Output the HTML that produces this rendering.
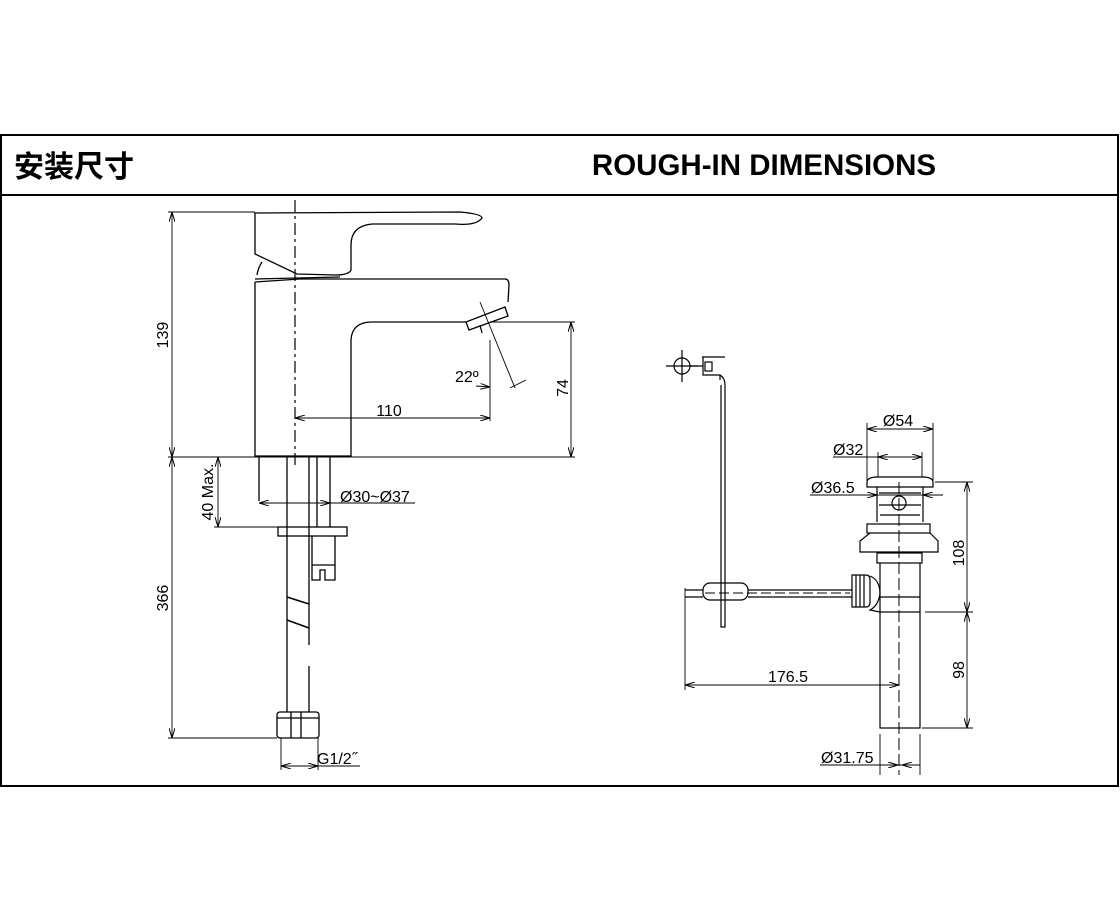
<!DOCTYPE html>
<html><head><meta charset="utf-8"><style>
html,body{margin:0;padding:0;background:#fff;width:1120px;height:920px;overflow:hidden}
svg{display:block}
text{font-family:"Liberation Sans","Noto Sans CJK SC",sans-serif;fill:#000}
</style></head><body>
<svg width="1120" height="920" viewBox="0 0 1120 920" xmlns="http://www.w3.org/2000/svg">
<defs>
<marker id="a" viewBox="0 0 10 6" refX="10" refY="3" markerWidth="10" markerHeight="6" orient="auto-start-reverse" markerUnits="userSpaceOnUse"><path d="M0,0 L10,3 L0,6" fill="none" stroke="#000" stroke-width="1"/></marker>
</defs>
<rect x="1" y="135" width="1117" height="651" fill="none" stroke="#000" stroke-width="2"/>
<line x1="1" y1="195" x2="1118" y2="195" stroke="#000" stroke-width="2"/>
<text x="14" y="177" font-size="30" font-weight="bold">安装尺寸</text>
<text x="764" y="175" font-size="29.5" font-weight="bold" text-anchor="middle">ROUGH-IN DIMENSIONS</text>

<g fill="none" stroke="#000" stroke-width="1.3">
<path d="M255,213 L460,212 Q482,214 482,218 Q476,226 455,224 L372,224 Q351,226 351,245 L351,270 Q349,275 335,275 L297,274 L255,254 Z"/>
<path d="M262,262 Q258,268 257,275"/>
<path d="M255,282 L255,456 L351,456 L351,340 Q352,322 372,322 L466,322"/>
<path d="M255,282 L300,279 L505,279 Q509,279 509,285 L508,302"/>
<path d="M255,279 L340,277"/>
<path d="M466,322 L469,330 L508,316 L505,307 Z"/>
<path d="M480,325 L482,333"/>
<path d="M259,456 L259,501 M287,456 L287,712 M309,456 L309,645 M309,666 L309,712 M317,456 L317,527 M330,456 L330,527"/>
<path d="M287,597 L309,604 M287,620 L309,628" stroke-width="1.5"/>
<rect x="278" y="527" width="69" height="9"/>
<path d="M312,536 L312,580 L320,580 L320,570 L325,570 L325,580 L335,580 L335,536"/>
<path d="M312,565 L335,565"/>
<rect x="277" y="712" width="42" height="26" rx="3"/>
<path d="M291,712 L291,738 M301,712 L301,738 M277,718 L319,718"/>
</g>
<line x1="295" y1="200" x2="295" y2="466" stroke="#000" stroke-width="1.2" stroke-dasharray="12,4,3,4"/>

<g fill="none" stroke="#000" stroke-width="0.9">
<line x1="168" y1="212" x2="255" y2="212"/>
<line x1="168" y1="457" x2="575" y2="457"/>
<line x1="172" y1="212" x2="172" y2="457" marker-start="url(#a)" marker-end="url(#a)"/>
<line x1="172" y1="457" x2="172" y2="738" marker-start="url(#a)" marker-end="url(#a)"/>
<line x1="168" y1="738" x2="277" y2="738"/>
<line x1="490" y1="322" x2="575" y2="322"/>
<line x1="571" y1="322" x2="571" y2="457" marker-start="url(#a)" marker-end="url(#a)"/>
<line x1="490" y1="340" x2="490" y2="421"/>
<line x1="295" y1="418" x2="490" y2="418" marker-start="url(#a)" marker-end="url(#a)"/>
<line x1="480" y1="302" x2="515" y2="388"/>
<line x1="510" y1="388" x2="526" y2="380"/>
<line x1="476" y1="386" x2="490" y2="387" marker-end="url(#a)"/>
<line x1="218" y1="457" x2="218" y2="527" marker-start="url(#a)" marker-end="url(#a)"/>
<line x1="214" y1="527" x2="278" y2="527"/>
<line x1="259" y1="503" x2="415" y2="503"/>
<line x1="259" y1="503" x2="279" y2="503" marker-start="url(#a)"/>
<line x1="330" y1="503" x2="310" y2="503" marker-start="url(#a)"/>
<line x1="281" y1="738" x2="281" y2="770"/>
<line x1="318" y1="738" x2="318" y2="770"/>
<line x1="281" y1="766" x2="360" y2="766"/>
<line x1="281" y1="766" x2="301" y2="766" marker-start="url(#a)"/>
<line x1="318" y1="766" x2="298" y2="766" marker-start="url(#a)"/>
</g>
<g font-size="16">
<text x="168" y="335" transform="rotate(-90 168 335)" text-anchor="middle">139</text>
<text x="168" y="598" transform="rotate(-90 168 598)" text-anchor="middle">366</text>
<text x="213" y="492" transform="rotate(-90 213 492)" text-anchor="middle">40 Max.</text>
<text x="568" y="388" transform="rotate(-90 568 388)" text-anchor="middle">74</text>
<text x="389" y="416" text-anchor="middle">110</text>
<text x="455" y="382">22º</text>
<text x="340" y="502">Ø30~Ø37</text>
<text x="317" y="764">G1/2˝</text>
</g>

<g fill="none" stroke="#000" stroke-width="1.2">
<circle cx="682" cy="366" r="8"/>
<path d="M666,366 L698,366 M682,350 L682,382"/>
<path d="M690,366 L703,366"/>
<rect x="705" y="362" width="7" height="9"/>
<path d="M702,357 L725,357 M703,357 L703,375 L720,375 L720,380 M720,375 Q725,378 725,385 L725,627 L721,627 L721,385"/>
<rect x="703" y="583" width="45" height="17" rx="7"/>
<path d="M685,590 L703,590 M685,597 L703,597 M748,590 L852,590 M748,597 L852,597"/>
<path d="M852,575 L866,575 Q870,575 870,580 L870,602 Q870,607 866,607 L852,607 Z"/>
<path d="M856,575 L856,607 M860,575 L860,607 M864,575 L864,607"/>
<path d="M870,576 Q880,580 880,594 Q878,606 870,610 L880,612"/>
<path d="M867,482 Q867,478 875,477 L925,477 Q933,478 933,482 L933,487 L867,487 Z"/>
<path d="M877,487 L877,522 M923,487 L923,522"/>
<path d="M879,493 L921,493 M879,505 L921,505 M880,515 L920,515"/>
<circle cx="899" cy="503" r="7"/>
<rect x="867" y="524" width="63" height="9"/>
<path d="M870,533 L860,541 L860,552 L938,552 L938,541 L930,533"/>
<rect x="877" y="553" width="45" height="10"/>
<path d="M880,563 L880,612 M920,563 L920,612 M880,597 L920,597"/>
<rect x="880" y="612" width="40" height="116"/>
</g>
<line x1="899" y1="482" x2="899" y2="775" stroke="#000" stroke-width="1" stroke-dasharray="12,4"/>
<line x1="705" y1="593" x2="850" y2="593" stroke="#000" stroke-width="1" stroke-dasharray="10,4"/>

<g fill="none" stroke="#000" stroke-width="0.9">
<line x1="867" y1="423" x2="867" y2="482"/>
<line x1="933" y1="423" x2="933" y2="482"/>
<line x1="867" y1="429" x2="933" y2="429" marker-start="url(#a)" marker-end="url(#a)"/>
<line x1="878" y1="452" x2="878" y2="477"/>
<line x1="922" y1="452" x2="922" y2="477"/>
<line x1="833" y1="457" x2="922" y2="457"/>
<line x1="878" y1="457" x2="898" y2="457" marker-start="url(#a)"/>
<line x1="922" y1="457" x2="902" y2="457" marker-start="url(#a)"/>
<line x1="810" y1="495" x2="943" y2="495"/>
<line x1="877" y1="495" x2="860" y2="495" marker-start="url(#a)"/>
<line x1="923" y1="495" x2="940" y2="495" marker-start="url(#a)"/>
<line x1="935" y1="482" x2="973" y2="482"/>
<line x1="925" y1="612" x2="973" y2="612"/>
<line x1="922" y1="728" x2="973" y2="728"/>
<line x1="967" y1="482" x2="967" y2="612" marker-start="url(#a)" marker-end="url(#a)"/>
<line x1="967" y1="612" x2="967" y2="728" marker-start="url(#a)" marker-end="url(#a)"/>
<line x1="685" y1="588" x2="685" y2="690"/>
<line x1="685" y1="685" x2="899" y2="685" marker-start="url(#a)" marker-end="url(#a)"/>
<line x1="880" y1="734" x2="880" y2="775"/>
<line x1="920" y1="734" x2="920" y2="775"/>
<line x1="820" y1="765" x2="920" y2="765"/>
<line x1="880" y1="765" x2="898" y2="765" marker-end="url(#a)"/>
<line x1="920" y1="765" x2="902" y2="765" marker-end="url(#a)"/>
</g>
<g font-size="16">
<text x="898" y="426" text-anchor="middle">Ø54</text>
<text x="833" y="455">Ø32</text>
<text x="811" y="493">Ø36.5</text>
<text x="964" y="553" transform="rotate(-90 964 553)" text-anchor="middle">108</text>
<text x="964" y="670" transform="rotate(-90 964 670)" text-anchor="middle">98</text>
<text x="788" y="682" text-anchor="middle">176.5</text>
<text x="821" y="763">Ø31.75</text>
</g>
</svg>
</body></html>
